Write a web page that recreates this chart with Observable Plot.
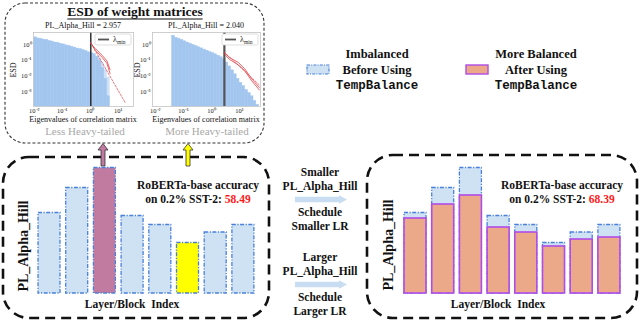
<!DOCTYPE html>
<html><head><meta charset="utf-8">
<script src="https://cdn.jsdelivr.net/npm/d3@7"></script>
<script src="https://cdn.jsdelivr.net/npm/@observablehq/plot@0.6"></script>
<style>
body{margin:0;background:#fff;}
#wrap{position:relative;width:640px;height:322px;overflow:hidden;background:#fff;}
#wrap > svg{position:absolute;}
</style></head><body><div id="wrap"></div>
<script>
// ---------- data ----------
const layers = [1, 2, 3, 4, 5, 6, 7, 8];
const alphaBefore = [3.22, 4.22, 5.02, 3.1, 2.74, 2.02, 2.44, 2.74];
const alphaAfter = [3.0, 3.56, 3.92, 2.64, 2.44, 1.88, 2.16, 2.24];
const accBefore = "58.49";
const accAfter = "68.39";
const alphaHillLeft = "2.957";
const alphaHillRight = "2.040";

// ESD histograms (log10 bin left edge, log10 density)
const leftBinLo = [-2.0,-1.9,-1.8,-1.7,-1.6,-1.5,-1.4,-1.3,-1.2,-1.1,-1.0,-0.9,-0.8,-0.7,-0.6,-0.5,-0.4,-0.3,-0.2,-0.1,0.0,0.1,0.2,0.3,0.4,0.5,0.6];
const leftLogDensity = [0.45,0.38,0.35,0.3,0.28,0.22,0.18,0.12,0.1,0.04,0.0,-0.06,-0.1,-0.16,-0.2,-0.26,-0.3,-0.36,-0.42,-0.5,-0.56,-0.62,-0.78,-1.05,-1.5,-2.2,-3.3];
const leftLightLo = [0.3, 0.4, 0.5, 0.6];
const leftLightLogDensity = [-0.9, -1.2, -1.6, -2.1];
const rightBinLo = [-1.4,-1.3,-1.2,-1.1,-1.0,-0.9,-0.8,-0.7,-0.6,-0.5,-0.4,-0.3,-0.2,-0.1,0.0,0.1,0.2,0.3,0.4,0.5,0.6,0.7,0.8,0.9,1.0,1.1,1.2,1.3,1.4,1.5,1.6];
const rightLogDensity = [0.55,0.42,0.35,0.28,0.2,0.12,0.05,-0.03,-0.1,-0.18,-0.25,-0.33,-0.4,-0.48,-0.55,-0.63,-0.72,-0.82,-0.95,-1.15,-1.4,-1.65,-1.9,-2.2,-2.45,-2.65,-2.9,-3.1,-3.3,-3.6,-3.85];
const lambdaMinLeft = 1.05;
const lambdaMinRight = 2.9;
// power-law fits and empirical tails (log10 x, log10 y)
const leftFitLogX = [0.02, 1.25];
const leftFitLogY = [0.1, -3.7];
const leftTailLogX = [0.02, 0.18, 0.43, 0.6, 0.71];
const leftTailLogY = [0.13, -0.38, -0.83, -1.21, -1.85];
const leftTail2LogY = [0.05, -0.25, -0.7, -1.05, -1.6];
const rightFitLogX = [0.46, 2.0];
const rightFitLogY = [-0.5, -3.06];
const rightTailLogX = [0.46, 0.64, 0.96, 1.18, 1.43, 1.71];
const rightTailLogY = [-0.51, -0.83, -1.15, -1.53, -2.17, -2.74];
const rightTail2LogY = [-0.6, -0.95, -1.3, -1.65, -2.3, -2.9];

// ---------- helpers ----------
const wrap = document.getElementById("wrap");
const SERIF = "'Liberation Serif','Times New Roman',serif";
const MONO = "'Liberation Mono','Courier New',monospace";
const sup = {"-": "⁻", "0": "⁰", "1": "¹", "2": "²", "3": "³", "4": "⁴"};
const fmtLog = d => "10" + String(Math.round(Math.log10(d))).split("").map(c => sup[c]).join("");

function place(svg, left, topPx) {
  svg.style.left = left + "px";
  svg.style.top = topPx + "px";
  wrap.appendChild(svg);
}

// ---------- layout overlay ----------
const ov = d3.create("svg").attr("width", 640).attr("height", 322)
  .style("left", "0px").style("top", "0px").attr("font-family", SERIF);
wrap.appendChild(ov.node());

function txt(x, y, s, o = {}) {
  const size = o.size || 12;
  const t = ov.append("text").attr("x", x).attr("y", y + size * 0.33)
    .attr("text-anchor", o.anchor || "middle")
    .attr("font-size", size).attr("font-weight", o.weight || "bold")
    .attr("font-family", o.family || SERIF)
    .attr("fill", o.fill || "#111")
    .style("white-space", "pre");
  if (o.rotate) t.attr("transform", `rotate(-90,${x},${y})`);
  t.text(s);
  return t;
}

// dashed boxes
ov.append("rect").attr("x", 5).attr("y", 3).attr("width", 259).attr("height", 140).attr("rx", 20)
  .attr("fill", "none").attr("stroke", "#333").attr("stroke-width", 1.1).attr("stroke-dasharray", "3,2");
ov.append("rect").attr("x", 3).attr("y", 157).attr("width", 266).attr("height", 161).attr("rx", 26)
  .attr("fill", "none").attr("stroke", "#111").attr("stroke-width", 2.6).attr("stroke-dasharray", "10,6");
ov.append("rect").attr("x", 367).attr("y", 155).attr("width", 270).attr("height", 163).attr("rx", 26)
  .attr("fill", "none").attr("stroke", "#111").attr("stroke-width", 2.6).attr("stroke-dasharray", "10,6");

// ESD title
const et = txt(135, 12, "ESD of weight matrices", {size: 13.5});
{
  const bb = et.node().getBBox();
  ov.append("line").attr("x1", bb.x).attr("x2", bb.x + bb.width).attr("y1", 19).attr("y2", 19)
    .attr("stroke", "#111").attr("stroke-width", 1);
}
txt(83, 25.5, "PL_Alpha_Hill = " + alphaHillLeft, {size: 8, weight: "normal"});
txt(206, 25.5, "PL_Alpha_Hill = " + alphaHillRight, {size: 8, weight: "normal"});
txt(83, 119, "Eigenvalues of correlation matrix", {size: 8, weight: "normal"});
txt(206, 119, "Eigenvalues of correlation matrix", {size: 8, weight: "normal"});
txt(13, 70, "ESD", {size: 8, weight: "normal", rotate: true});
txt(137, 70, "ESD", {size: 8, weight: "normal", rotate: true});
txt(85, 131, "Less Heavy-tailed", {size: 11, weight: "normal", fill: "#a8a8a8"});
txt(207, 131, "More Heavy-tailed", {size: 11, weight: "normal", fill: "#a8a8a8"});

// arrows from bars up to ESD box
function upArrow(cx, fill) {
  const pts = [[cx - 2, 166], [cx - 2, 150], [cx - 5, 150], [cx, 143.5], [cx + 5, 150], [cx + 2, 150], [cx + 2, 166]];
  ov.append("polygon").attr("points", pts.map(p => p.join(",")).join(" "))
    .attr("fill", fill).attr("stroke", "#333").attr("stroke-width", 0.8);
}
upArrow(103, "#c27ba0");
upArrow(188, "#ffff00");

// middle texts and arrows
const midLines = [["Smaller", 172], ["PL_Alpha_Hill", 186], ["Schedule", 212.5], ["Smaller LR", 226],
                  ["Larger", 257], ["PL_Alpha_Hill", 271], ["Schedule", 297.5], ["Larger LR", 311.5]];
midLines.forEach(([s, y]) => txt(320, y, s, {size: 11.5}));
function rightArrow(y) {
  const pts = [[295, y - 2.8], [339, y - 2.8], [339, y - 4.2], [347, y], [339, y + 4.2], [339, y + 2.8], [295, y + 2.8]];
  ov.append("polygon").attr("points", pts.map(p => p.join(",")).join(" ")).attr("fill", "#c8ddf1");
}
rightArrow(199.5);
rightArrow(284.5);

// legend
ov.append("rect").attr("x", 307).attr("y", 65).attr("width", 22).attr("height", 9)
  .attr("fill", "#cfe2f3").attr("stroke", "#4a80dc").attr("stroke-width", 1.2).attr("stroke-dasharray", "3,1.2,1,1.2");
txt(377, 54, "Imbalanced", {size: 12.5});
txt(377, 70, "Before Using", {size: 12.5});
txt(377, 85, "TempBalance", {size: 12.5, family: MONO});
ov.append("rect").attr("x", 466).attr("y", 65).attr("width", 22).attr("height", 9)
  .attr("fill", "#eba98a").attr("stroke", "#b04ce8").attr("stroke-width", 1.4);
txt(536, 54, "More Balanced", {size: 12.5});
txt(536, 70, "After Using", {size: 12.5});
txt(536, 85, "TempBalance", {size: 12.5, family: MONO});

// bar panel texts
txt(23, 246, "PL_Alpha_Hill", {size: 14, rotate: true});
txt(388, 245, "PL_Alpha_Hill", {size: 14, rotate: true});
txt(132, 304, "Layer/Block  Index", {size: 11.5});
txt(498, 304, "Layer/Block  Index", {size: 11.5});
txt(198, 185, "RoBERTa-base accuracy", {size: 11.5});
{
  const t = txt(198, 199, "on 0.2% SST-2: ", {size: 11.5});
  t.append("tspan").attr("fill", "#ff1a1a").text(accBefore);
}
txt(562, 185, "RoBERTa-base accuracy", {size: 11.5});
{
  const t = txt(562, 199, "on 0.2% SST-2: ", {size: 11.5});
  t.append("tspan").attr("fill", "#ff1a1a").text(accAfter);
}

// ---------- ESD plots ----------
const histFill = "#a3c6ef";
const yLo = 10 ** -3.95, yHi = 10 ** 0.76;
function esdPlot({width, marginLeft, marginRight, xDomain, bins, light, lambdaMin, lambdaColor, lambdaWidth, fit, tails}) {
  return Plot.plot({
    width, height: 100, marginLeft, marginRight, marginTop: 12, marginBottom: 14,
    style: {background: "transparent", fontFamily: SERIF, fontSize: "6.5px", color: "#222", overflow: "visible"},
    x: {type: "log", domain: xDomain, ticks: [0.01, 0.1, 1, 10], tickFormat: fmtLog, tickSize: 0, tickPadding: 1.5, label: null},
    y: {type: "log", domain: [yLo, yHi], ticks: [0.001, 0.01, 0.1, 1], tickFormat: fmtLog, tickSize: 0, tickPadding: 2, label: null},
    marks: [
      Plot.rect(light, {x1: d => 10 ** d.lo, x2: d => 10 ** (d.lo + 0.1), y1: yLo, y2: d => 10 ** d.v, fill: "#cfe1f6", stroke: "#cfe1f6", strokeWidth: 0.5}),
      Plot.rect(bins, {x1: d => 10 ** d.lo, x2: d => 10 ** (d.lo + 0.1), y1: yLo, y2: d => 10 ** d.v, fill: histFill, stroke: histFill, strokeWidth: 0.5}),
      Plot.ruleX([lambdaMin], {stroke: lambdaColor, strokeWidth: lambdaWidth}),
      ...tails.map(t => Plot.line(t, {x: d => 10 ** d.x, y: d => 10 ** d.y, stroke: "#e0424a", strokeWidth: 0.8, clip: true})),
      Plot.line(fit, {x: d => 10 ** d.x, y: d => 10 ** d.y, stroke: "#e0424a", strokeWidth: 0.7, strokeDasharray: "2,1.5", clip: true}),
      Plot.frame({stroke: "#c4c4c4", strokeWidth: 0.8})
    ]
  });
}
const zipBins = (lo, v) => lo.map((l, i) => ({lo: l, v: v[i]}));
const zipPts = (xs, ys) => xs.map((x, i) => ({x, y: ys[i]}));

place(esdPlot({
  width: 140, marginLeft: 33, marginRight: 7, xDomain: [10 ** -2.03, 10 ** 1.55],
  bins: zipBins(leftBinLo, leftLogDensity), light: zipBins(leftLightLo, leftLightLogDensity),
  lambdaMin: lambdaMinLeft, lambdaColor: "#222", lambdaWidth: 1.4,
  fit: zipPts(leftFitLogX, leftFitLogY),
  tails: [zipPts(leftTailLogX, leftTailLogY), zipPts(leftTailLogX, leftTail2LogY)]
}), 0, 20);
place(esdPlot({
  width: 150, marginLeft: 32, marginRight: 10, xDomain: [10 ** -2.1, 10 ** 1.75],
  bins: zipBins(rightBinLo, rightLogDensity), light: [],
  lambdaMin: lambdaMinRight, lambdaColor: "#555", lambdaWidth: 2.2,
  fit: zipPts(rightFitLogX, rightFitLogY),
  tails: [zipPts(rightTailLogX, rightTailLogY), zipPts(rightTailLogX, rightTail2LogY)]
}), 120, 20);

// λmin legends inside ESD plots (drawn on top)
const overTop = d3.create("svg").attr("width", 640).attr("height", 140).style("left", "0px").style("top", "0px")
  .attr("font-family", SERIF);
function lamLegend(x0) {
  overTop.append("rect").attr("x", x0).attr("y", 34).attr("width", 36).attr("height", 11).attr("rx", 1.5)
    .attr("fill", "#fff").attr("stroke", "#d0d0d0").attr("stroke-width", 0.7);
  overTop.append("line").attr("x1", x0 + 3).attr("x2", x0 + 14).attr("y1", 39.5).attr("y2", 39.5)
    .attr("stroke", "#555").attr("stroke-width", 1.8);
  const t = overTop.append("text").attr("x", x0 + 18).attr("y", 42).attr("font-size", 8).attr("fill", "#222").text("λ");
  t.append("tspan").attr("font-size", 5.5).attr("dy", 1.5).text("min");
}
lamLegend(95);
lamLegend(222);
wrap.appendChild(overTop.node());

// ---------- bar charts ----------
const before = layers.map((l, i) => ({layer: l, alpha: alphaBefore[i]}));
const after = layers.map((l, i) => ({layer: l, alpha: alphaAfter[i]}));
const leftFill = d => d.layer === 3 ? "#c27ba0" : d.layer === 6 ? "#ffff00" : "#cfe2f3";
const barOpts = (marginLeft, marginRight, marks) => Plot.plot({
  width: 270, height: 172, marginLeft, marginRight, marginTop: 3, marginBottom: 29,
  style: {background: "transparent", overflow: "visible"},
  x: {type: "band", domain: layers, padding: 0.206, round: false, axis: null},
  y: {domain: [0, 5.6], axis: null},
  color: {type: "identity"},
  marks
});
const blueStroke = {stroke: "#4a80dc", strokeWidth: 1.3, strokeDasharray: "4,1.5,1.2,1.5"};
place(barOpts(32.3, 10.4, [
  Plot.barY(before, {x: "layer", y: "alpha", fill: leftFill, ...blueStroke})
]), 0, 150);
place(barOpts(28.3, 14.4, [
  Plot.barY(before, {x: "layer", y: "alpha", fill: "#cfe2f3", ...blueStroke}),
  Plot.barY(after, {x: "layer", y: "alpha", fill: "#eba98a", stroke: "#b04ce8", strokeWidth: 1.6})
]), 370, 150);
</script></body></html>
